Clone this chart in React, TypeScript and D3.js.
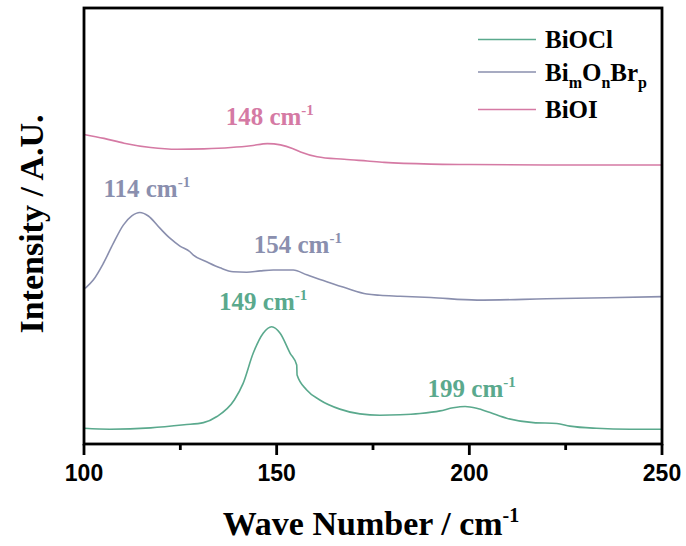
import React from "react";
import * as d3 from "d3";

const seriesNames = ["BiOCl", "BimOnBrp", "BiOI"];
const colors = ["#5aa98d", "#8a8fae", "#d57aa4"];

const biOClX = [100, 106.7, 117.3, 126, 131, 134.5, 139, 141.3, 143.9, 146.5, 148.7, 150.9, 153.5, 155.2, 155.3, 157.8, 161.2, 166.4, 171.6, 176.8, 182, 187.2, 192.4, 195.8, 198.9, 201.9, 205.4, 209.7, 216.6, 222.7, 226.1, 233, 241.7, 250];
const biOClY = [3.6, 3.4, 3.7, 4.4, 4.9, 6.3, 10.1, 13.9, 20.8, 25.4, 26.9, 25.4, 20.8, 18.1, 15.8, 12.4, 10.1, 8.0, 6.9, 6.6, 6.7, 7.0, 7.6, 8.3, 8.6, 8.2, 7.2, 5.9, 4.9, 4.7, 4.1, 3.6, 3.4, 3.4];

const bromideX = [100.3, 102.4, 105, 107.6, 110.2, 112.4, 114.5, 116.7, 119.7, 122.3, 124.9, 127.5, 128.4, 131.8, 135.3, 138.7, 142.2, 145.7, 149.1, 154.3, 157.8, 163, 168.2, 173.4, 176.8, 182, 190, 202, 220, 250];
const bromideY = [35.7, 37.6, 41.4, 46.0, 50.2, 52.3, 53.1, 52.3, 49.5, 47.2, 45.4, 44.1, 43.3, 41.8, 40.4, 39.5, 39.4, 39.7, 39.9, 39.9, 38.8, 37.2, 35.7, 34.4, 34.1, 33.9, 33.6, 33.0, 33.3, 33.8];

const biOIX = [100, 105.2, 110.4, 117.3, 124.2, 131.1, 138.1, 143.3, 147.6, 151, 154.1, 156.2, 160.5, 167.5, 173.5, 177.9, 190, 200, 220, 250];
const biOIY = [71.0, 70.1, 69.0, 68.0, 67.6, 67.7, 68.0, 68.4, 68.9, 68.6, 67.8, 67.0, 65.9, 65.3, 64.9, 64.6, 64.2, 64.1, 64.0, 64.0];

const majorTicks = [100, 150, 200, 250];
const minorTicks = [125, 175, 225];

const peakLabels = [
  { text: "148 cm", series: 2, x: 148.2, y: 73.2 },
  { text: "114 cm", series: 1, x: 116.3, y: 56.7 },
  { text: "154 cm", series: 1, x: 155.5, y: 43.8 },
  { text: "149 cm", series: 0, x: 146.5, y: 30.7 },
  { text: "199 cm", series: 0, x: 200.6, y: 10.8 },
];

const W = 686, H = 546;
const left = 84, right = 662, top = 8, bottom = 444;

export default function App() {
  const x = d3.scaleLinear().domain([100, 250]).range([left, right]);
  const y = d3.scaleLinear().domain([0, 100]).range([bottom, top]);
  const line = d3.line<[number, number]>().x(d => x(d[0])).y(d => y(d[1])).curve(d3.curveMonotoneX);
  const series = [
    d3.zip(biOClX, biOClY) as [number, number][],
    d3.zip(bromideX, bromideY) as [number, number][],
    d3.zip(biOIX, biOIY) as [number, number][],
  ];
  const serif = "'Liberation Serif', 'Times New Roman', serif";
  const sans = "'Liberation Sans', Arial, sans-serif";
  const legendY = [39.5, 72, 109.5];
  return (
    <svg width={W} height={H} style={{ position: "absolute", left: 0, top: 0 }}>
      <rect width={W} height={H} fill="white" />
      {series.map((s, i) => (
        <path key={i} d={line(s) || ""} fill="none" stroke={colors[i]} strokeWidth={1.6} />
      ))}
      <rect x={left} y={top} width={right - left} height={bottom - top} fill="none" stroke="black" strokeWidth={2.8} />
      {majorTicks.map(t => (
        <g key={t}>
          <line x1={x(t)} x2={x(t)} y1={bottom} y2={bottom + 11} stroke="black" strokeWidth={2.8} />
          <text x={x(t)} y={481} textAnchor="middle" fontFamily={sans} fontWeight="bold" fontSize={23}>{t}</text>
        </g>
      ))}
      {minorTicks.map(t => (
        <line key={t} x1={x(t)} x2={x(t)} y1={bottom} y2={bottom + 6} stroke="black" strokeWidth={2.8} />
      ))}
      {peakLabels.map((p, i) => (
        <text key={i} x={x(p.x)} y={y(p.y)} textAnchor="middle" fontFamily={serif} fontWeight="bold" fontSize={25} fill={colors[p.series]}>
          {p.text}
          <tspan dy={-10} fontSize={15}>-1</tspan>
        </text>
      ))}
      {seriesNames.map((n, i) => (
        <g key={n}>
          <line x1={478} x2={536} y1={legendY[i]} y2={legendY[i]} stroke={colors[i]} strokeWidth={1.6} />
          <text x={545} y={legendY[i] + 8.5} fontFamily={serif} fontWeight="bold" fontSize={25}>
            {n === "BimOnBrp" ? (
              <>
                Bi<tspan dy={7} fontSize={16}>m</tspan>
                <tspan dy={-7}>O</tspan><tspan dy={7} fontSize={16}>n</tspan>
                <tspan dy={-7}>Br</tspan><tspan dy={7} fontSize={16}>p</tspan>
              </>
            ) : n}
          </text>
        </g>
      ))}
      <text x={371} y={535} textAnchor="middle" fontFamily={serif} fontWeight="bold" fontSize={34}>
        Wave Number / cm<tspan dy={-13} fontSize={20}>-1</tspan>
      </text>
      <text transform={`translate(43, 224) rotate(-90)`} textAnchor="middle" fontFamily={serif} fontWeight="bold" fontSize={34}>
        Intensity / A.U.
      </text>
    </svg>
  );
}
